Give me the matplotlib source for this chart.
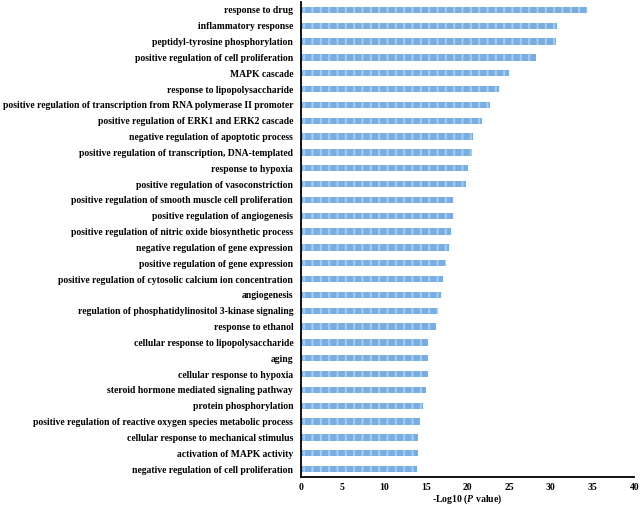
import matplotlib
matplotlib.use("Agg")
import matplotlib.pyplot as plt

terms = [
    "response to drug",
    "inflammatory response",
    "peptidyl-tyrosine phosphorylation",
    "positive regulation of cell proliferation",
    "MAPK cascade",
    "response to lipopolysaccharide",
    "positive regulation of transcription from RNA polymerase II promoter",
    "positive regulation of ERK1 and ERK2 cascade",
    "negative regulation of apoptotic process",
    "positive regulation of transcription, DNA-templated",
    "response to hypoxia",
    "positive regulation of vasoconstriction",
    "positive regulation of smooth muscle cell proliferation",
    "positive regulation of angiogenesis",
    "positive regulation of nitric oxide biosynthetic process",
    "negative regulation of gene expression",
    "positive regulation of gene expression",
    "positive regulation of cytosolic calcium ion concentration",
    "angiogenesis",
    "regulation of phosphatidylinositol 3-kinase signaling",
    "response to ethanol",
    "cellular response to lipopolysaccharide",
    "aging",
    "cellular response to hypoxia",
    "steroid hormone mediated signaling pathway",
    "protein phosphorylation",
    "positive regulation of reactive oxygen species metabolic process",
    "cellular response to mechanical stimulus",
    "activation of MAPK activity",
    "negative regulation of cell proliferation",
]
values = [34.3, 30.7, 30.6, 28.2, 25.0, 23.8, 22.7, 21.7, 20.7, 20.5,
          20.1, 19.8, 18.3, 18.2, 18.0, 17.8, 17.4, 17.1, 16.8, 16.4,
          16.2, 15.3, 15.2, 15.2, 15.0, 14.6, 14.3, 14.1, 14.0, 13.9]
xticks = [0, 5, 10, 15, 20, 25, 30, 35, 40]

plt.rcParams['font.family'] = ['Liberation Serif', 'DejaVu Serif']
plt.rcParams['font.weight'] = 'bold'
plt.rcParams['mathtext.fontset'] = 'custom'
plt.rcParams['mathtext.it'] = 'Liberation Serif:italic:bold'
plt.rcParams['mathtext.rm'] = 'Liberation Serif:bold'
plt.rcParams['hatch.linewidth'] = 1.5

fig = plt.figure(figsize=(6.4, 5.05), dpi=100)
ax = fig.add_axes([0.470, 0.0554, 0.521, 0.9406])

n = len(terms)
ypos = list(range(n - 1, -1, -1))
ax.barh(ypos, values, height=0.40, color='#78aee2', edgecolor='#a8cbee',
        hatch='||', linewidth=0)

ax.set_ylim(-0.5, n - 0.5)
ax.set_xlim(0, 40)
ax.set_yticks(ypos)
ax.set_yticklabels(terms, fontsize=6.95, fontweight='bold')
ax.set_xticks(xticks)
ax.set_xticklabels([str(t) for t in xticks], fontsize=7, fontweight='bold')
ax.tick_params(axis='both', length=0)
ax.tick_params(axis='y', pad=5.5)
ax.tick_params(axis='x', pad=4)
ax.set_xlabel(r'-Log10 ($\it{P}$ value)', fontsize=7, fontweight='bold', labelpad=1)

for s in ['top', 'right']:
    ax.spines[s].set_visible(False)
for s in ['left', 'bottom']:
    ax.spines[s].set_linewidth(1.3)
    ax.spines[s].set_color('black')

fig.savefig('out.png', dpi=100)
